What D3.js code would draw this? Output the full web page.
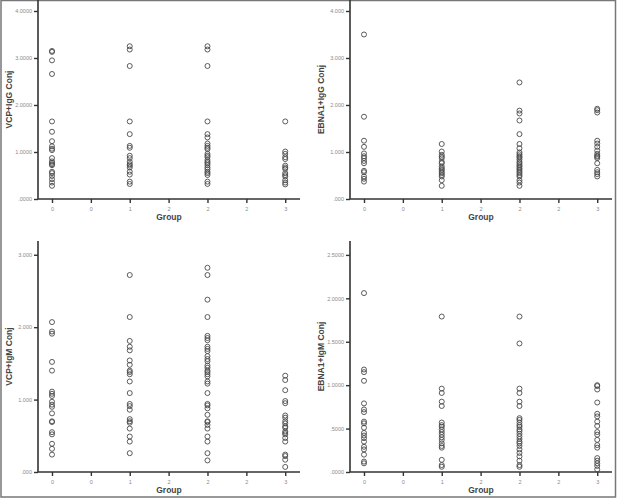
<!DOCTYPE html>
<html>
<head>
<meta charset="utf-8">
<script src="https://cdn.jsdelivr.net/npm/d3@7"></script>
<style>
  body { margin: 0; background: #fff; }
  svg { display: block; font-family: "Liberation Sans", Arial, sans-serif; }
</style>
</head>
<body>
<div id="chart"></div>
<script>
// group positions and x tick labels (SPSS style rounded half steps)
var groups = [0, 1, 2, 3];
var xTickValues = [0, 0.5, 1, 1.5, 2, 2.5, 3];
var xTickLabels = ["0", "0", "1", "2", "2", "2", "3"];

// VCP+IgG Conj, one list per group
var vcpIgg = [
  [3.15, 3.13, 2.95, 2.66, 1.65, 1.43, 1.23, 1.12, 1.07, 1.04, 0.87, 0.80, 0.77, 0.74, 0.72, 0.58, 0.55, 0.49, 0.42, 0.35, 0.28],
  [3.25, 3.18, 2.83, 1.65, 1.38, 1.13, 1.09, 0.92, 0.87, 0.79, 0.74, 0.71, 0.67, 0.58, 0.52, 0.37, 0.32],
  [3.25, 3.18, 2.83, 1.65, 1.38, 1.31, 1.18, 1.13, 1.09, 1.06, 0.96, 0.92, 0.89, 0.83, 0.79, 0.76, 0.72, 0.67, 0.63, 0.58, 0.55, 0.51, 0.37, 0.32],
  [1.65, 1.01, 0.96, 0.89, 0.85, 0.71, 0.67, 0.64, 0.55, 0.51, 0.48, 0.40, 0.35, 0.31]
];
var vcpIggTicks = [0, 1, 2, 3, 4];
var vcpIggLabels = [".0000", "1.0000", "2.0000", "3.0000", "4.0000"];

// EBNA1+IgG Conj
var ebnaIgg = [
  [3.50, 1.75, 1.24, 1.11, 0.97, 0.91, 0.87, 0.81, 0.76, 0.60, 0.57, 0.48, 0.43, 0.37],
  [1.17, 1.01, 0.94, 0.90, 0.87, 0.79, 0.76, 0.69, 0.65, 0.62, 0.58, 0.55, 0.51, 0.48, 0.40, 0.28],
  [2.48, 1.88, 1.82, 1.67, 1.38, 1.17, 1.08, 0.99, 0.95, 0.91, 0.88, 0.84, 0.79, 0.76, 0.72, 0.69, 0.65, 0.62, 0.58, 0.55, 0.51, 0.48, 0.40, 0.35, 0.28],
  [1.92, 1.89, 1.84, 1.24, 1.18, 1.11, 1.03, 0.96, 0.92, 0.90, 0.87, 0.76, 0.62, 0.57, 0.53, 0.48]
];
var ebnaIggTicks = [0, 1, 2, 3, 4];
var ebnaIggLabels = [".000", "1.000", "2.000", "3.000", "4.000"];

// VCP+IgM Conj
var vcpIgm = [
  [2.07, 1.94, 1.91, 1.52, 1.40, 1.11, 1.08, 1.05, 0.97, 0.93, 0.90, 0.81, 0.70, 0.69, 0.55, 0.52, 0.39, 0.32, 0.24],
  [2.72, 2.14, 1.81, 1.73, 1.68, 1.54, 1.48, 1.40, 1.38, 1.35, 1.25, 1.09, 0.94, 0.91, 0.86, 0.73, 0.70, 0.68, 0.60, 0.49, 0.42, 0.26],
  [2.82, 2.72, 2.38, 2.14, 1.88, 1.85, 1.82, 1.73, 1.70, 1.67, 1.60, 1.56, 1.53, 1.47, 1.44, 1.40, 1.38, 1.35, 1.32, 1.25, 1.22, 1.09, 0.94, 0.92, 0.88, 0.79, 0.70, 0.69, 0.65, 0.60, 0.49, 0.42, 0.26, 0.16],
  [1.33, 1.27, 1.13, 0.98, 0.95, 0.78, 0.75, 0.70, 0.67, 0.63, 0.61, 0.56, 0.54, 0.52, 0.47, 0.42, 0.24, 0.22, 0.17, 0.07]
];
var vcpIgmTicks = [0, 1, 2, 3];
var vcpIgmLabels = [".000", "1.000", "2.000", "3.000"];

// EBNA1+IgM Conj
var ebnaIgm = [
  [2.06, 1.18, 1.15, 1.05, 0.79, 0.72, 0.69, 0.58, 0.56, 0.51, 0.45, 0.42, 0.39, 0.35, 0.29, 0.26, 0.20, 0.12, 0.10],
  [1.79, 0.96, 0.91, 0.81, 0.76, 0.57, 0.54, 0.52, 0.49, 0.46, 0.43, 0.40, 0.37, 0.33, 0.30, 0.28, 0.14, 0.08, 0.06],
  [1.79, 1.48, 0.96, 0.91, 0.81, 0.76, 0.62, 0.60, 0.57, 0.54, 0.52, 0.49, 0.47, 0.44, 0.41, 0.38, 0.35, 0.33, 0.30, 0.26, 0.22, 0.18, 0.13, 0.08, 0.06],
  [1.00, 0.99, 0.95, 0.80, 0.67, 0.64, 0.58, 0.53, 0.46, 0.43, 0.37, 0.31, 0.28, 0.16, 0.13, 0.10, 0.07, 0.03]
];
var ebnaIgmTicks = [0, 0.5, 1, 1.5, 2, 2.5];
var ebnaIgmLabels = [".0000", ".5000", "1.0000", "1.5000", "2.0000", "2.5000"];

var W = 617, H = 499;

var svg = d3.select("#chart")
  .append("svg")
  .attr("width", W)
  .attr("height", H);

// outer frame
svg.append("rect")
  .attr("x", 1).attr("y", 0.5)
  .attr("width", W - 2.5).attr("height", H - 2.5)
  .attr("fill", "none")
  .attr("stroke", "#777")
  .attr("stroke-width", 1.5);

// one panel = one scatter plot
function panel(opts) {
  var g = svg.append("g");

  var x = d3.scaleLinear()
    .domain([-0.18, 3.19])
    .range([opts.left, opts.left + 262]);

  var y = d3.scaleLinear()
    .domain([0, opts.ymax])
    .range([opts.bottom, opts.top]);

  var xAxis = d3.axisBottom(x)
    .tickValues(xTickValues)
    .tickSize(4)
    .tickFormat(function (d, i) { return xTickLabels[i]; });

  var yAxis = d3.axisLeft(y)
    .tickValues(opts.ticks)
    .tickSize(4)
    .tickFormat(function (d, i) { return opts.labels[i]; });

  var gx = g.append("g")
    .attr("transform", "translate(0," + opts.bottom + ")")
    .call(xAxis);
  var gy = g.append("g")
    .attr("transform", "translate(" + opts.left + ",0)")
    .call(yAxis);

  [gx, gy].forEach(function (a) {
    a.select(".domain").attr("stroke", "#333").attr("stroke-width", 1.6);
    a.selectAll(".tick line").attr("stroke", "#333").attr("stroke-width", 1.4);
    a.selectAll(".tick text")
      .attr("fill", "#8a8a8a")
      .style("font-size", "5.5px");
  });
  gx.select(".domain").attr("d", "M" + opts.left + ",0H" + (opts.left + 262));
  gy.select(".domain").attr("d", "M0," + opts.top + "V" + opts.bottom);
  gx.selectAll(".tick text").attr("dy", "0.9em");
  gy.selectAll(".tick text").attr("x", -6);

  // axis titles
  g.append("text")
    .attr("x", opts.left + 131)
    .attr("y", opts.bottom + 21)
    .attr("text-anchor", "middle")
    .attr("fill", "#444")
    .style("font-size", "8.5px")
    .style("font-weight", "bold")
    .text("Group");

  g.append("text")
    .attr("transform", "translate(" + (opts.left - 26) + "," + ((opts.top + opts.bottom) / 2) + ") rotate(-90)")
    .attr("text-anchor", "middle")
    .attr("fill", "#444")
    .style("font-size", "8.5px")
    .style("font-weight", "bold")
    .text(opts.title);

  // points
  var pts = [];
  opts.data.forEach(function (vals, gi) {
    vals.forEach(function (v) { pts.push({ group: groups[gi], value: v }); });
  });

  g.selectAll("circle")
    .data(pts)
    .enter()
    .append("circle")
    .attr("cx", function (d) { return x(d.group); })
    .attr("cy", function (d) { return y(d.value); })
    .attr("r", 2.5)
    .attr("fill", "none")
    .attr("stroke", "#4a4a4a")
    .attr("stroke-width", 0.9);
}

panel({ left: 38, top: 0, bottom: 199, ymax: 4.234, data: vcpIgg, ticks: vcpIggTicks, labels: vcpIggLabels, title: "VCP+IgG Conj" });
panel({ left: 350, top: 0, bottom: 199, ymax: 4.234, data: ebnaIgg, ticks: ebnaIggTicks, labels: ebnaIggLabels, title: "EBNA1+IgG Conj" });
panel({ left: 38, top: 241, bottom: 472, ymax: 3.19, data: vcpIgm, ticks: vcpIgmTicks, labels: vcpIgmLabels, title: "VCP+IgM Conj" });
panel({ left: 350, top: 241, bottom: 472, ymax: 2.66, data: ebnaIgm, ticks: ebnaIgmTicks, labels: ebnaIgmLabels, title: "EBNA1+IgM Conj" });
</script>
</body>
</html>
